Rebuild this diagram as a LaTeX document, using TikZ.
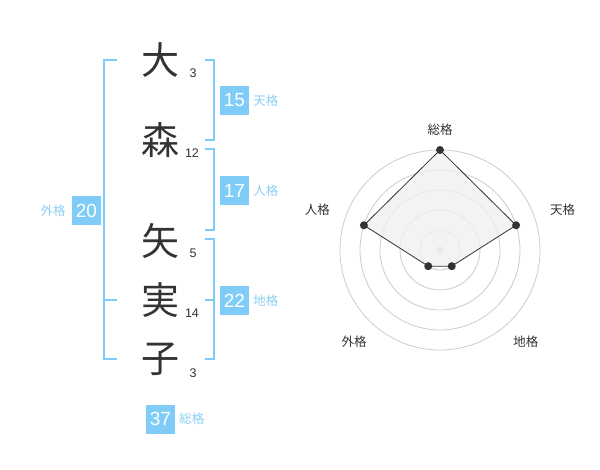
\documentclass[tikz,border=0pt]{standalone}
\usepackage{fontspec}
\setmainfont{Liberation Sans}
\newfontfamily\jp{Noto Sans CJK JP}
\usetikzlibrary{positioning}
\definecolor{kakublue}{HTML}{80CCF8}
\definecolor{kakutext}{HTML}{8CCFF4}
\definecolor{ink}{HTML}{333333}
\tikzset{
  kanji/.style={font=\jp\fontsize{38}{38}\selectfont, text=ink, inner sep=0},
  strokes/.style={font=\fontsize{12.5}{13}\selectfont, text=ink, inner sep=0},
  kakubox/.style={fill=kakublue, text=white, minimum size=29pt, inner sep=0, font=\fontsize{19}{19}\selectfont},
  kakulabel/.style={font=\jp\fontsize{12.5}{13}\selectfont, text=kakutext, inner sep=0},
  bracket/.style={draw=kakublue, line width=2pt},
  axislabel/.style={font=\jp\fontsize{12.5}{13}\selectfont, text=ink, inner sep=0},
}
\begin{document}
\begin{tikzpicture}[x=1pt, y=-1pt]
  \useasboundingbox[fill=white] (0,0) rectangle (600,470);
  % name
  \node[kanji] (c1) at (160,60) {大};
  \node[kanji] (c2) at (160,140) {森};
  \node[kanji] (c3) at (160,241) {矢};
  \node[kanji] (c4) at (160,300) {実};
  \node[kanji] (c5) at (160,359) {子};
  \node[strokes] (s1) at (193,73) {3};
  \node[strokes] (s2) at (192,153) {12};
  \node[strokes] (s3) at (193,253) {5};
  \node[strokes] (s4) at (192,313) {14};
  \node[strokes] (s5) at (193,373) {3};
  % brackets
  \draw[bracket] (205,60) -- (214,60) -- (214,140) -- (205,140);
  \draw[bracket] (205,149) -- (214,149) -- (214,230) -- (205,230);
  \draw[bracket] (205,239) -- (214,239) -- (214,359) -- (205,359);
  \draw[bracket] (205,300) -- (214,300);
  \draw[bracket] (117,60) -- (104,60) -- (104,359) -- (117,359);
  \draw[bracket] (104,300) -- (117,300);
  % boxes
  \node[kakubox] (ten) at (234.5,100.5) {15};
  \node[kakulabel, right=4pt of ten] (tenl) {天格};
  \node[kakubox] (jin) at (234.5,190.5) {17};
  \node[kakulabel, right=4pt of jin] (jinl) {人格};
  \node[kakubox] (chi) at (234.5,300.5) {22};
  \node[kakulabel, right=4pt of chi] (chil) {地格};
  \node[kakubox] (gai) at (86.5,210.5) {20};
  \node[kakulabel, left=6pt of gai] (gail) {外格};
  \node[kakubox] (sou) at (160.5,419) {37};
  \node[kakulabel, right=4pt of sou] (soul) {総格};
  % radar
  \begin{scope}[shift={(440,250)}, yscale=-1]
    \foreach \r in {20,40,...,100}
      \draw[black!20, line width=0.8pt] (0,0) circle (\r);
    \fill[black!20] (0,0) circle (3.5);
    \draw[ink, line width=0.8pt, fill=black!6, fill opacity=0.8]
      (90:100) -- (18:80) -- (-54:20) -- (-126:20) -- (162:80) -- cycle;
    \foreach \a/\r in {90/100,18/80,-54/20,-126/20,162/80}
      \fill[ink] (\a:\r) circle (4);
    \node[axislabel] (rsou) at (90:120) {総格};
    \node[axislabel] (rten) at (18:129) {天格};
    \node[axislabel] (rchi) at (-47:126) {地格};
    \node[axislabel] (rgai) at (-133:126) {外格};
    \node[axislabel] (rjin) at (162:129) {人格};
  \end{scope}
\end{tikzpicture}
\end{document}
